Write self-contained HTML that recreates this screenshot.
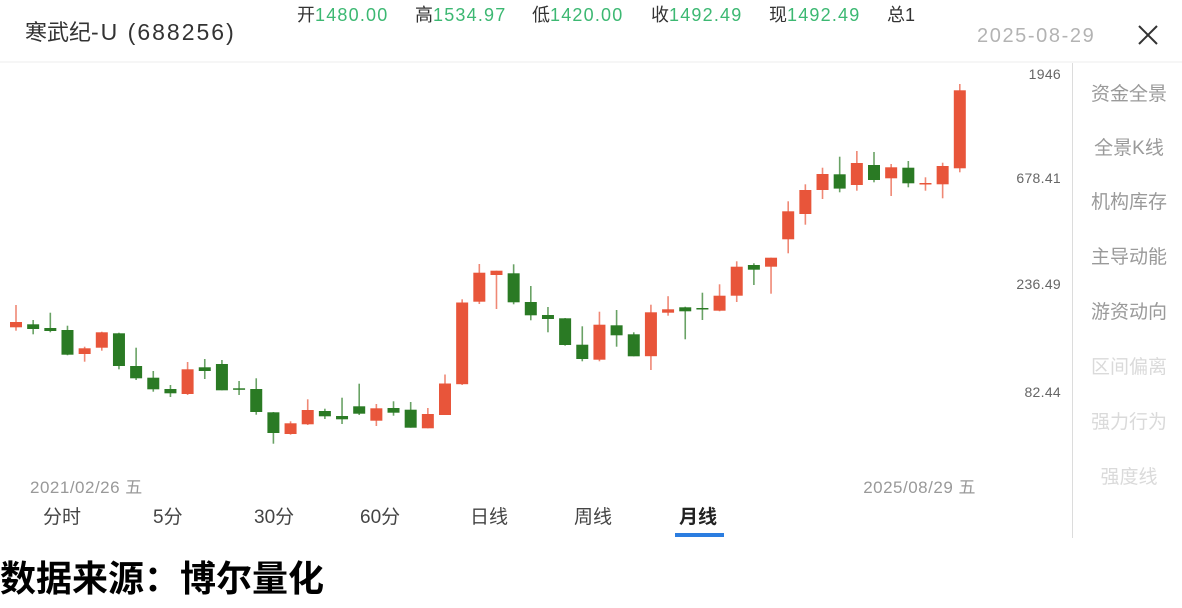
<!DOCTYPE html>
<html><head><meta charset="utf-8"><style>
*{margin:0;padding:0;box-sizing:border-box}
body{width:1182px;height:608px;background:#fff;position:relative;overflow:hidden;font-family:"Liberation Sans","Noto Sans CJK SC",sans-serif}
.a{position:absolute;white-space:nowrap}
.top{font-size:18px;line-height:18px;top:6px;color:#333}
.top span{color:#3cb872;letter-spacing:1.2px}
.yl{font-size:14px;line-height:14px;color:#666;right:121px;letter-spacing:0.3px}
.sb{font-size:19px;line-height:19px;width:110px;left:1074px;text-align:center;color:#9a9a9a}
.sb.l{color:#dadada}
.tab{font-size:19px;line-height:19px;top:508px;color:#444}
</style></head><body>
<div class="a" style="left:25px;top:21px;font-size:22px;line-height:22px;color:#333">寒武纪<span style="font-size:23px;letter-spacing:2px">-U (688256)</span></div>
<div class="a top" style="left:297px">开<span>1480.00</span></div>
<div class="a top" style="left:415px">高<span>1534.97</span></div>
<div class="a top" style="left:532px">低<span>1420.00</span></div>
<div class="a top" style="left:651px">收<span>1492.49</span></div>
<div class="a top" style="left:769px">现<span>1492.49</span></div>
<div class="a top" style="left:887px">总1</div>
<div class="a" style="left:977px;top:26px;font-size:20px;line-height:20px;color:#b3b3b3;letter-spacing:1.6px">2025-08-29</div>
<svg class="a" style="left:0;top:0" width="1182" height="608">
<line x1="1139" y1="26" x2="1157" y2="44" stroke="#333" stroke-width="2"/>
<line x1="1157" y1="26" x2="1139" y2="44" stroke="#333" stroke-width="2"/>
<line x1="0" y1="62" x2="1182" y2="62" stroke="#ececec" stroke-width="1"/>
<line x1="1072.5" y1="63" x2="1072.5" y2="538" stroke="#dcdcdc" stroke-width="1"/>
<rect x="675" y="533" width="49" height="4" fill="#2b7de0"/>
<g stroke-width="1.6">
<g stroke="#e8553a" stroke-opacity="0.7">
<line x1="16" y1="305" x2="16" y2="330.7"/>
<line x1="84.64" y1="346.7" x2="84.64" y2="361.7"/>
<line x1="101.8" y1="331.7" x2="101.8" y2="350.7"/>
<line x1="187.6" y1="362" x2="187.6" y2="395"/>
<line x1="290.56" y1="421.3" x2="290.56" y2="434.7"/>
<line x1="307.72" y1="399.3" x2="307.72" y2="425"/>
<line x1="376.36" y1="404" x2="376.36" y2="426"/>
<line x1="427.84" y1="408" x2="427.84" y2="428.3"/>
<line x1="445" y1="374.5" x2="445" y2="415"/>
<line x1="462.16" y1="299.3" x2="462.16" y2="385"/>
<line x1="479.32" y1="264" x2="479.32" y2="304"/>
<line x1="496.48" y1="270.7" x2="496.48" y2="309"/>
<line x1="599.44" y1="311.7" x2="599.44" y2="361.3"/>
<line x1="650.92" y1="304.7" x2="650.92" y2="370"/>
<line x1="668.08" y1="296.2" x2="668.08" y2="315.7"/>
<line x1="719.56" y1="284.3" x2="719.56" y2="311.3"/>
<line x1="736.72" y1="261.3" x2="736.72" y2="302"/>
<line x1="771.04" y1="257.7" x2="771.04" y2="293.7"/>
<line x1="788.2" y1="201.3" x2="788.2" y2="253.3"/>
<line x1="805.36" y1="184.3" x2="805.36" y2="224.7"/>
<line x1="822.52" y1="167.7" x2="822.52" y2="199"/>
<line x1="856.84" y1="151" x2="856.84" y2="190.7"/>
<line x1="891.16" y1="164" x2="891.16" y2="196"/>
<line x1="925.48" y1="177.3" x2="925.48" y2="190.7"/>
<line x1="942.64" y1="162.7" x2="942.64" y2="198.3"/>
<line x1="959.8" y1="84" x2="959.8" y2="172.3"/>
</g>
<g stroke="#2a7a24" stroke-opacity="0.7">
<line x1="33.16" y1="320" x2="33.16" y2="334.3"/>
<line x1="50.32" y1="312.7" x2="50.32" y2="332.3"/>
<line x1="67.48" y1="325.7" x2="67.48" y2="355.3"/>
<line x1="118.96" y1="332.7" x2="118.96" y2="369.3"/>
<line x1="136.12" y1="347.7" x2="136.12" y2="380"/>
<line x1="153.28" y1="371" x2="153.28" y2="391.7"/>
<line x1="170.44" y1="385" x2="170.44" y2="397"/>
<line x1="204.76" y1="359" x2="204.76" y2="379"/>
<line x1="221.92" y1="360" x2="221.92" y2="390.3"/>
<line x1="239.08" y1="381" x2="239.08" y2="395"/>
<line x1="256.24" y1="378.3" x2="256.24" y2="414.7"/>
<line x1="273.4" y1="412" x2="273.4" y2="443.7"/>
<line x1="324.88" y1="408.7" x2="324.88" y2="419"/>
<line x1="342.04" y1="397.7" x2="342.04" y2="424"/>
<line x1="359.2" y1="383.7" x2="359.2" y2="415"/>
<line x1="393.52" y1="401.3" x2="393.52" y2="415.7"/>
<line x1="410.68" y1="402" x2="410.68" y2="427.7"/>
<line x1="513.64" y1="264.3" x2="513.64" y2="304.3"/>
<line x1="530.8" y1="286" x2="530.8" y2="320.3"/>
<line x1="547.96" y1="307" x2="547.96" y2="332.3"/>
<line x1="565.12" y1="318" x2="565.12" y2="345.7"/>
<line x1="582.28" y1="326.3" x2="582.28" y2="361.3"/>
<line x1="616.6" y1="310" x2="616.6" y2="346.7"/>
<line x1="633.76" y1="332.3" x2="633.76" y2="356.3"/>
<line x1="685.24" y1="306.7" x2="685.24" y2="339.3"/>
<line x1="702.4" y1="292.7" x2="702.4" y2="320"/>
<line x1="753.88" y1="263.3" x2="753.88" y2="285"/>
<line x1="839.68" y1="156.7" x2="839.68" y2="192.3"/>
<line x1="874" y1="152" x2="874" y2="182.3"/>
<line x1="908.32" y1="161" x2="908.32" y2="187.3"/>
</g>
</g>
<g fill="#e8553a">
<rect x="10" y="322" width="12" height="5.3"/>
<rect x="78.64" y="348.3" width="12" height="5.7"/>
<rect x="95.8" y="332.3" width="12" height="15.4"/>
<rect x="181.6" y="369.3" width="12" height="24.7"/>
<rect x="284.56" y="423.3" width="12" height="10.7"/>
<rect x="301.72" y="410" width="12" height="14.3"/>
<rect x="370.36" y="408.3" width="12" height="12.4"/>
<rect x="421.84" y="414" width="12" height="14.3"/>
<rect x="439" y="383.5" width="12" height="31.5"/>
<rect x="456.16" y="302.5" width="12" height="81.7"/>
<rect x="473.32" y="272.7" width="12" height="29"/>
<rect x="490.48" y="270.7" width="12" height="4.3"/>
<rect x="593.44" y="324.7" width="12" height="35"/>
<rect x="644.92" y="312.3" width="12" height="43.9"/>
<rect x="662.08" y="309.3" width="12" height="3.4"/>
<rect x="713.56" y="295.7" width="12" height="15"/>
<rect x="730.72" y="266.7" width="12" height="29"/>
<rect x="765.04" y="257.7" width="12" height="9"/>
<rect x="782.2" y="211.3" width="12" height="28"/>
<rect x="799.36" y="190" width="12" height="24"/>
<rect x="816.52" y="174" width="12" height="16"/>
<rect x="850.84" y="163" width="12" height="22"/>
<rect x="885.16" y="167.3" width="12" height="11"/>
<rect x="919.48" y="183" width="12" height="1.5"/>
<rect x="936.64" y="166" width="12" height="18.3"/>
<rect x="953.8" y="90.3" width="12" height="78"/>
</g>
<g fill="#2a7a24">
<rect x="27.16" y="324.3" width="12" height="4.7"/>
<rect x="44.32" y="328" width="12" height="3"/>
<rect x="61.48" y="330" width="12" height="24.7"/>
<rect x="112.96" y="333.3" width="12" height="32.7"/>
<rect x="130.12" y="366" width="12" height="12.3"/>
<rect x="147.28" y="377.7" width="12" height="11.6"/>
<rect x="164.44" y="389" width="12" height="4.3"/>
<rect x="198.76" y="367.3" width="12" height="3.7"/>
<rect x="215.92" y="364" width="12" height="26.3"/>
<rect x="233.08" y="388.3" width="12" height="1.5"/>
<rect x="250.24" y="389" width="12" height="23"/>
<rect x="267.4" y="412.3" width="12" height="20.7"/>
<rect x="318.88" y="411" width="12" height="5.3"/>
<rect x="336.04" y="416" width="12" height="3.3"/>
<rect x="353.2" y="406.3" width="12" height="7.4"/>
<rect x="387.52" y="408" width="12" height="4.7"/>
<rect x="404.68" y="409.7" width="12" height="18"/>
<rect x="507.64" y="273.3" width="12" height="29"/>
<rect x="524.8" y="302" width="12" height="13.3"/>
<rect x="541.96" y="315" width="12" height="4"/>
<rect x="559.12" y="318.3" width="12" height="26.7"/>
<rect x="576.28" y="344.7" width="12" height="14.3"/>
<rect x="610.6" y="325.3" width="12" height="10"/>
<rect x="627.76" y="334.3" width="12" height="22"/>
<rect x="679.24" y="307.3" width="12" height="4"/>
<rect x="696.4" y="308" width="12" height="1.5"/>
<rect x="747.88" y="265" width="12" height="4.7"/>
<rect x="833.68" y="174.3" width="12" height="14.3"/>
<rect x="868" y="165" width="12" height="15"/>
<rect x="902.32" y="167.7" width="12" height="15.6"/>
</g>
</svg>
<div class="a yl" style="top:67px">1946</div>
<div class="a yl" style="top:171px">678.41</div>
<div class="a yl" style="top:277px">236.49</div>
<div class="a yl" style="top:385px">82.44</div>
<div class="a sb" style="top:85px">资金全景</div>
<div class="a sb" style="top:139px">全景K线</div>
<div class="a sb" style="top:193px">机构库存</div>
<div class="a sb" style="top:248px">主导动能</div>
<div class="a sb" style="top:303px">游资动向</div>
<div class="a sb l" style="top:358px">区间偏离</div>
<div class="a sb l" style="top:413px">强力行为</div>
<div class="a sb l" style="top:468px">强度线</div>
<div class="a" style="left:30px;top:479px;font-size:17px;line-height:17px;color:#999;letter-spacing:0.5px">2021/02/26 五</div>
<div class="a" style="right:206px;top:479px;font-size:17px;line-height:17px;color:#999;letter-spacing:0.5px">2025/08/29 五</div>
<div class="a tab" style="left:43px">分时</div>
<div class="a tab" style="left:153px">5分</div>
<div class="a tab" style="left:254px">30分</div>
<div class="a tab" style="left:360px">60分</div>
<div class="a tab" style="left:470px">日线</div>
<div class="a tab" style="left:574px">周线</div>
<div class="a tab" style="left:679px;font-weight:bold;color:#222">月线</div>
<div class="a" style="left:0;top:560px;font-size:36px;line-height:38px;font-weight:bold;color:#000">数据来源：博尔量化</div>
</body></html>
